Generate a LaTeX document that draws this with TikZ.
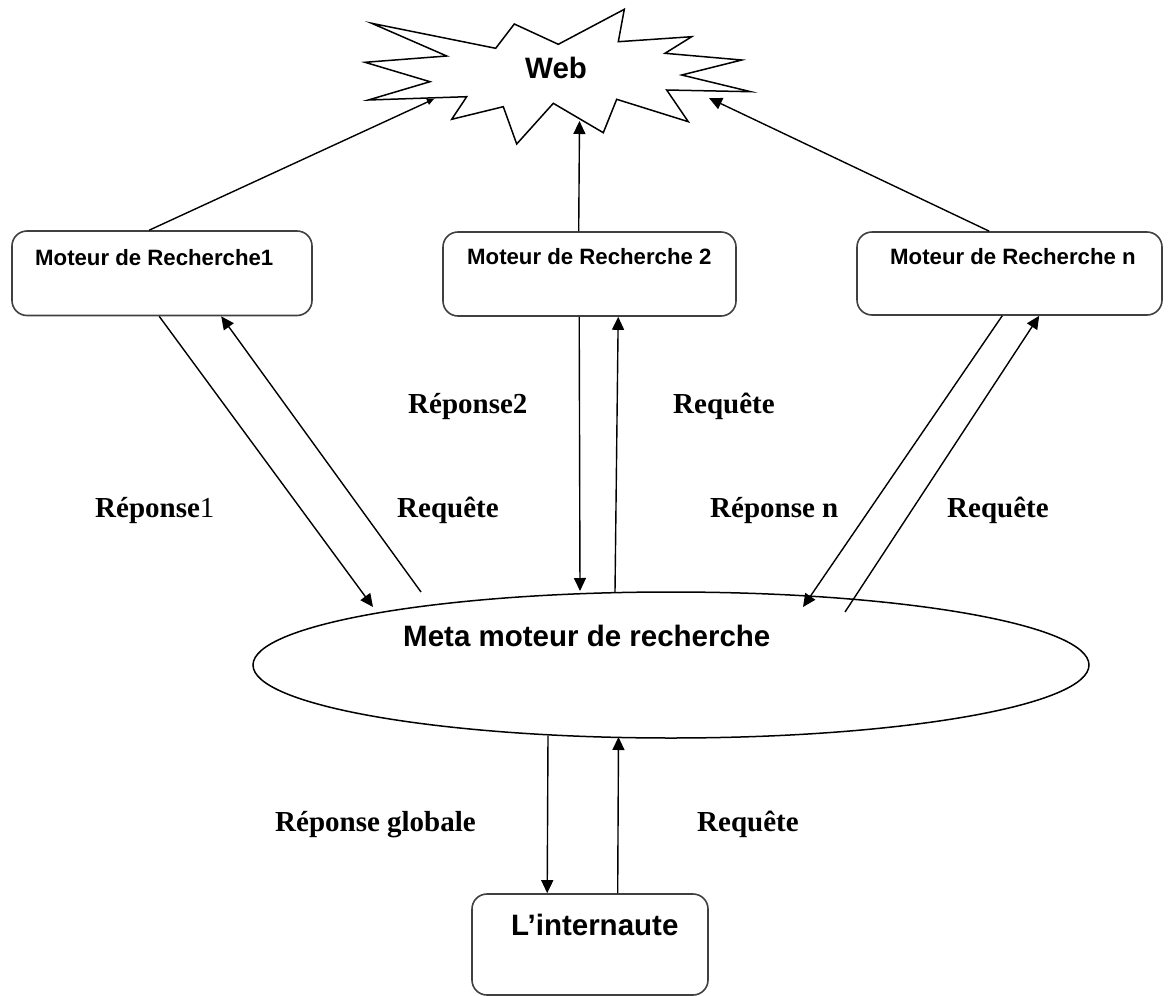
\documentclass[tikz,border=0pt]{standalone}
\usepackage{fontspec}
\setmainfont{Liberation Serif}
\newfontfamily\boxfont{Liberation Sans}
\usetikzlibrary{arrows.meta,shapes.geometric}

\tikzset{
  box/.style={draw=black!75, line width=1.6pt, rounded corners=15pt, inner sep=0pt},
  oval/.style={draw=black, line width=1.5pt, ellipse, inner sep=0pt},
  flow/.style={draw=black, line width=1.4pt, -{Triangle[length=13pt,width=12pt]}},
  flowsmall/.style={draw=black, line width=1.4pt, -{Triangle[length=7pt,width=6pt]}},
  plain/.style={draw=black, line width=1.4pt},
  boxtext/.style={anchor=base west, inner sep=0pt, font=\boxfont\bfseries\fontsize{22.2}{24}\selectfont},
  bigtext/.style={anchor=base west, inner sep=0pt, font=\boxfont\bfseries\fontsize{29.5}{32}\selectfont},
  lbl/.style={anchor=base west, inner sep=0pt, font=\bfseries\fontsize{29}{32}\selectfont}
}

\begin{document}
\begin{tikzpicture}[x=1pt,y=-1pt]
\useasboundingbox (0,0) rectangle (1171,996);

% the Web burst
\draw[line width=1.5pt, line join=miter, fill=white]
  (371.7,23.3) -- (446.7,56) -- (365,62.3) -- (430,81.7) -- (368.3,100)
  -- (466.7,96.7) -- (451.7,119.3) -- (503.3,106.7) -- (516.7,144)
  -- (553.3,103.3) -- (603.3,132.7) -- (616.7,99.3) -- (688.3,121.7)
  -- (666.7,90) -- (750.7,91.7) -- (681.7,75) -- (741.7,60) -- (665,53.3)
  -- (691.7,36.7) -- (618.3,41.7) -- (624.3,9.3) -- (558.3,44.3)
  -- (514.3,24) -- (495.7,48.3) -- cycle;
\node[bigtext] (web) at (525,78) {Web};
\coordinate (webL) at (434,99);
\coordinate (webC) at (579.5,121);
\coordinate (webR) at (709,98);

% search engines
\node[box, minimum width=300pt, minimum height=84.5pt] (b1) at (162,273.25) {};
\node[box, minimum width=293pt, minimum height=84pt] (b2) at (589.5,274) {};
\node[box, minimum width=305pt, minimum height=83pt] (b3) at (1009.5,273.5) {};
\node[boxtext] (t1) at (35,265) {Moteur de Recherche1};
\node[boxtext] (t2) at (467,264) {Moteur de Recherche 2};
\node[boxtext] (t3) at (890,264) {Moteur de Recherche n};

% meta engine and user
\node[oval, minimum width=836pt, minimum height=146pt] (meta) at (671,665) {};
\node[bigtext] (tm) at (403,646) {Meta moteur de recherche};
\node[box, minimum width=236pt, minimum height=101pt] (user) at (590,944.5) {};
\node[bigtext] (tu) at (511,935) {L’internaute};

% points on the ellipse where connectors meet it
\coordinate (m1in) at (373,607);
\coordinate (m1out) at (421,592);
\coordinate (m2in) at (580,591);
\coordinate (m2out) at (615,592);
\coordinate (m3in) at (803,607);
\coordinate (m3out) at (845,612);
\coordinate (m4out) at (548,736);
\coordinate (m4in) at (618.5,737);

% engines to the Web
\draw[flowsmall] ([xshift=138pt]b1.north west) -- (webL);
\draw[flow] ([xshift=136.5pt]b2.north west) -- (webC);
\draw[flow] ([xshift=133pt]b3.north west) -- (webR);

% engines <-> meta engine
\draw[flow] ([xshift=148pt]b1.south west) -- (m1in);
\draw[flow] (m1out) -- ([xshift=210pt]b1.south west);
\draw[flow] ([xshift=137pt]b2.south west) -- (m2in);
\draw[flow] (m2out) -- ([xshift=176pt]b2.south west);
\draw[flow] ([xshift=146pt]b3.south west) -- (m3in);
\draw[flow] (m3out) -- ([xshift=183pt]b3.south west);

% meta engine <-> user
\draw[flow] (m4out) -- ([xshift=76pt]user.north west);
\draw[flow] ([xshift=146.5pt]user.north west) -- (m4in);

% labels
\node[lbl] (l1) at (95,517) {Réponse{\mdseries 1}};
\node[lbl] (l2) at (397,517) {Requête};
\node[lbl] (l3) at (408,413) {Réponse2};
\node[lbl] (l4) at (673,413) {Requête};
\node[lbl] (l5) at (710,517) {Réponse n};
\node[lbl] (l6) at (947,517) {Requête};
\node[lbl] (l7) at (275,831) {Réponse globale};
\node[lbl] (l8) at (697,831) {Requête};
\end{tikzpicture}
\end{document}
